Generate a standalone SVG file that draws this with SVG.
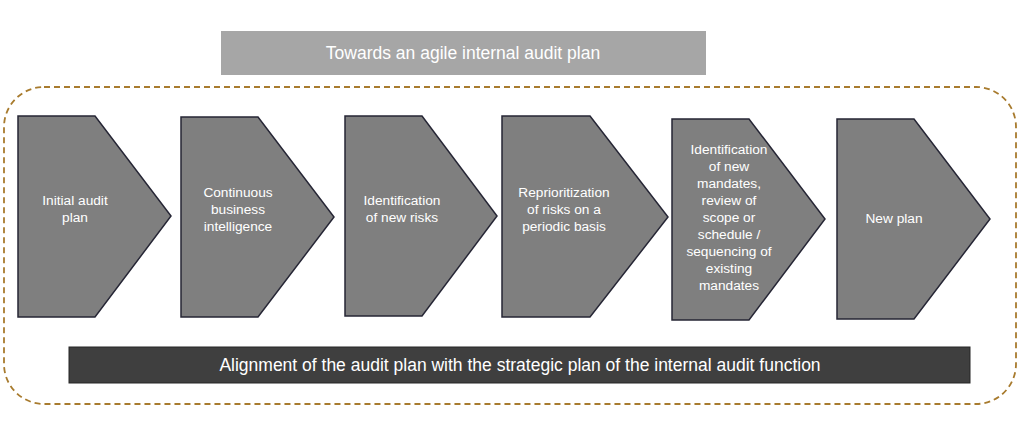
<svg xmlns="http://www.w3.org/2000/svg" width="1024" height="444" viewBox="0 0 1024 444">
<style>
.c{fill:#7f7f7f;stroke:#262635;stroke-width:1.5}
.t{font-family:"Liberation Sans",Arial,sans-serif;font-size:13.7px;fill:#fff;text-anchor:middle}
.b{font-family:"Liberation Sans",Arial,sans-serif;font-size:17.5px;fill:#fff;text-anchor:middle}
</style>
<rect width="1024" height="444" fill="#fff"/>
<rect x="4" y="87" width="1012" height="317" rx="40" fill="none" stroke="#a87b2e" stroke-width="1.8" stroke-dasharray="6,4"/>
<g id="banner"><rect x="221" y="31" width="485" height="44" fill="#a6a6a6"/><text class="b" x="463" y="59">Towards an agile internal audit plan</text></g>
<g id="n1"><polygon class="c" points="18,116 95,116 171,216 95,317 18,317"/><text class="t" x="75" y="205">Initial audit</text><text class="t" x="75" y="222">plan</text></g>
<g id="n2"><polygon class="c" points="181,117 258,117 334,217 258,317 181,317"/><text class="t" x="238" y="197">Continuous</text><text class="t" x="238" y="214">business</text><text class="t" x="238" y="231">intelligence</text></g>
<g id="n3"><polygon class="c" points="345,116 422,116 497,216 422,316 345,316"/><text class="t" x="402" y="205">Identification</text><text class="t" x="402" y="222">of new risks</text></g>
<g id="n4"><polygon class="c" points="502,116 590,116 668,217 590,317 502,317"/><text class="t" x="564" y="197">Reprioritization</text><text class="t" x="564" y="214">of risks on a</text><text class="t" x="564" y="231">periodic basis</text></g>
<g id="n5"><polygon class="c" points="672,119 749,119 825,219 749,320 672,320"/><text class="t" x="729" y="154">Identification</text><text class="t" x="729" y="171">of new</text><text class="t" x="729" y="188">mandates,</text><text class="t" x="729" y="205">review of</text><text class="t" x="729" y="222">scope or</text><text class="t" x="729" y="239">schedule /</text><text class="t" x="729" y="256">sequencing of</text><text class="t" x="729" y="273">existing</text><text class="t" x="729" y="290">mandates</text></g>
<g id="n6"><polygon class="c" points="837,119 914,119 990,219 914,319 837,319"/><text class="t" x="894" y="223">New plan</text></g>
<g id="connectors"></g>
<g id="bar"><rect x="69" y="347" width="901" height="36" fill="#3f3f3f" stroke="#262626"/><text class="b" x="520" y="371">Alignment of the audit plan with the strategic plan of the internal audit function</text></g>
</svg>
